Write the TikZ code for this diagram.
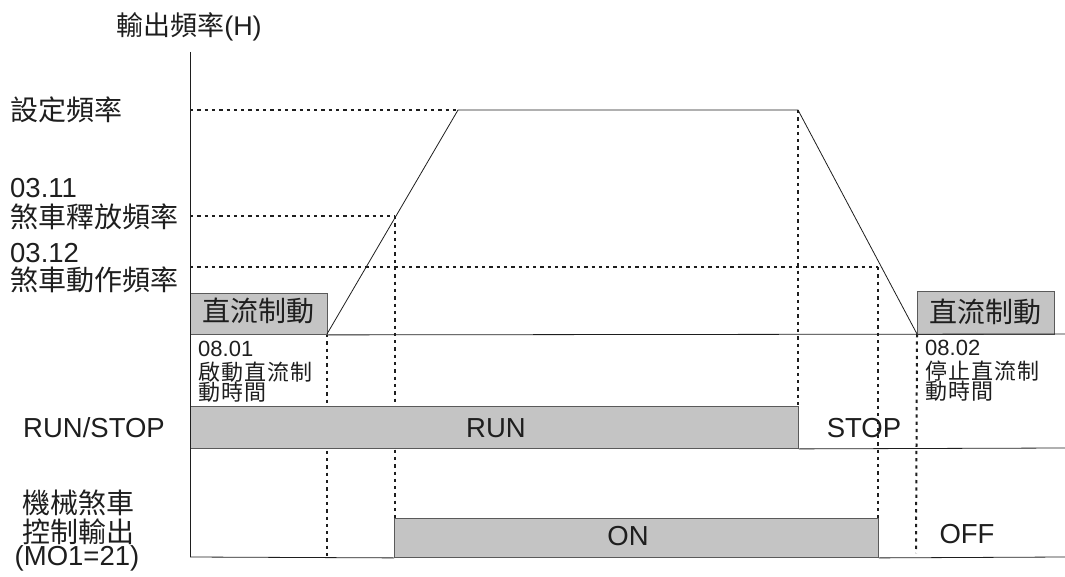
\documentclass[tikz,border=0pt]{standalone}
\usepackage{fontspec}
\setmainfont{Liberation Sans}
\newfontfamily\cjk{Noto Sans CJK TC}
\newfontfamily\cjksp{Noto Sans CJK TC}[LetterSpace=5]
\definecolor{boxgray}{RGB}{196,196,196}
\definecolor{boxedge}{RGB}{90,90,90}
\definecolor{ink}{RGB}{30,30,30}
\begin{document}
\begin{tikzpicture}[x=1pt,y=-1pt,
  dotline/.style={line width=2pt, dash pattern=on 3.3pt off 4pt, ink},
  solid/.style={line width=0.8pt, ink},
  sigbox/.style={draw=boxedge, line width=0.9pt, fill=boxgray, inner sep=0pt, anchor=north west},
  lbl/.style={text=ink, inner sep=0pt},
  big/.style={lbl, font=\fontsize{27.5}{27.5}\selectfont},
  bigcjk/.style={lbl, font=\fontsize{28}{28}\selectfont\cjk},
  small/.style={lbl, font=\fontsize{22}{22}\selectfont},
  smallcjk/.style={lbl, font=\fontsize{22}{22}\selectfont\cjksp}]
\useasboundingbox (0,0) rectangle (1065,577);
% key coordinates
\coordinate (axtop) at (190,52);
\coordinate (axbot) at (190,557);
\coordinate (r0) at (327,334);
\coordinate (r1) at (458,110);
\coordinate (r2) at (798,110);
\coordinate (r3) at (917,334);
\coordinate (fset) at (190,110);
\coordinate (frel) at (190,216);
\coordinate (prel) at (395,216);
\coordinate (fact) at (190,267);
\coordinate (pact) at (878,267);
\coordinate (e327) at (327,560);
\coordinate (e395) at (395,518);
\coordinate (e798) at (798,406);
\coordinate (e878) at (878,518);
\coordinate (e916) at (916,553);
\coordinate (rEnd1) at (1065,334);
\coordinate (rEnd2) at (1065,448);
\coordinate (rEnd3) at (1065,557);
% dotted guide lines
\draw[dotline] (fset) -- (r1);
\draw[dotline] (frel) -- (prel);
\draw[dotline] (fact) -- (pact);
\draw[dotline] (r0) -- (e327);
\draw[dotline] (prel) -- (e395);
\draw[dotline] (r2) -- (e798);
\draw[dotline] (pact) -- (e878);
\draw[dotline] (r3) -- (e916);
% boxes
\node[sigbox, minimum width=137pt, minimum height=41pt] (dc1) at (190,293) {};
\node[sigbox, minimum width=137pt, minimum height=43pt] (dc2) at (917,291) {};
\node[sigbox, minimum width=608pt, minimum height=42pt] (run) at (190,406) {};
\node[sigbox, minimum width=484pt, minimum height=39pt] (on) at (394,518) {};
% solid lines
\draw[solid] (axtop) -- (axbot);
\draw[solid] (r0) -- (r1) -- (r2) -- (r3);
\draw[solid] (dc1.south east) -- (rEnd1);
\draw[solid] (run.south east) -- (rEnd2);
\draw[solid] (axbot) -- (on.south west);
\draw[solid] (on.south east) -- (rEnd3);
% box texts
\node[bigcjk] (tdc1) at ([yshift=3pt]dc1.center) {直流制動};
\node[bigcjk] (tdc2) at ([yshift=1pt]dc2.center) {直流制動};
\node[big] (trun) at (496,428) {RUN};
\node[big] (ton) at (628,536) {ON};
\node[big] (tstop) at (864,428) {STOP};
\node[big] (toff) at (967,534) {OFF};
% left labels
\node[lbl, font=\fontsize{27}{27}\selectfont] (title) at (189,27) {{\cjk 輸出頻率}(H)};
\node[bigcjk, anchor=west] (lset) at (10,110) {設定頻率};
\node[big, anchor=west] (l0311) at (10,188) {03.11};
\node[bigcjk, anchor=west] (lrel) at (10,217) {煞車釋放頻率};
\node[big, anchor=west] (l0312) at (10,253) {03.12};
\node[bigcjk, anchor=west] (lact) at (10,280) {煞車動作頻率};
\node[big] (lrs) at (94,428) {RUN/STOP};
\node[bigcjk] (lmb1) at (78,503) {機械煞車};
\node[bigcjk] (lmb2) at (78,532) {控制輸出};
\node[big] (lmb3) at (77,558) {(MO1=21)};
% DC braking time notes
\node[small, anchor=west] (n0801) at (198,349) {08.01};
\node[smallcjk, anchor=west] (n0801a) at (198,372) {啟動直流制};
\node[smallcjk, anchor=west] (n0801b) at (198,392) {動時間};
\node[small, anchor=west] (n0802) at (925,348) {08.02};
\node[smallcjk, anchor=west] (n0802a) at (925,371) {停止直流制};
\node[smallcjk, anchor=west] (n0802b) at (925,391) {動時間};
\end{tikzpicture}
\end{document}
